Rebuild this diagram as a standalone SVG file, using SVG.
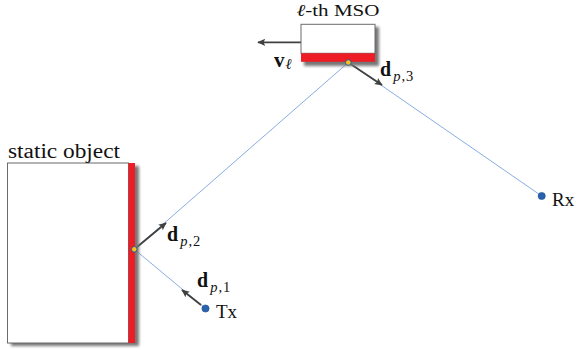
<svg xmlns="http://www.w3.org/2000/svg" width="577" height="356" viewBox="0 0 577 356">
<defs>
<filter id="sh" x="-20%" y="-20%" width="150%" height="150%">
<feGaussianBlur stdDeviation="1.6"/>
</filter>
<marker id="ah" viewBox="0 0 10 10" refX="9" refY="5" markerWidth="8" markerHeight="8" markerUnits="userSpaceOnUse" orient="auto" overflow="visible">
<path d="M0,0.5 L10,5 L0,9.5 L2,5 Z" fill="#404040"/>
</marker>
</defs>
<style>
.ray{stroke:#6a98d8;stroke-width:0.8;fill:none}
.arr{stroke:#404040;stroke-width:1.8;fill:none;marker-end:url(#ah)}
.box{fill:#fff;stroke:#6b6b6b;stroke-width:1}
.red{fill:#ee1c24}
.shd{fill:#777;filter:url(#sh)}
.t{font-family:"Liberation Serif","Times New Roman",serif;fill:#111}
.b{font-family:"Liberation Serif","Times New Roman",serif;font-weight:bold;fill:#111}
.i{font-family:"Liberation Serif","Times New Roman",serif;font-style:italic;font-weight:normal;fill:#111}
.s{font-family:"Liberation Serif","Times New Roman",serif;font-weight:normal;fill:#111}
.pt{fill:#2a62b0;stroke:#1b4a8a;stroke-width:0.6}
.rp{fill:#f7c21a;stroke:#2a5aa0;stroke-width:1}
</style>
<g id="connectors">
<polyline class="ray" points="205.5,308.5 134.3,249.3 348.3,62.5 541.7,196"/>
<line class="arr" x1="201" y1="305" x2="182" y2="290"/>
<line class="arr" x1="134.3" y1="249.3" x2="166" y2="223"/>
<line class="arr" x1="348.3" y1="62.5" x2="382" y2="85"/>
<line class="arr" x1="301" y1="42.3" x2="258" y2="42.3"/>
</g>
<g id="static-object">
<rect class="shd" x="11" y="166" width="128" height="180"/>
<rect class="box" x="7.5" y="163" width="121" height="180"/>
<rect class="red" x="128.5" y="163" width="6.5" height="180"/>
<text class="t" x="8" y="158" font-size="20" textLength="112" lengthAdjust="spacingAndGlyphs">static object</text>
</g>
<g id="mso">
<rect class="shd" x="304" y="27" width="75" height="39"/>
<rect class="box" x="301" y="24.3" width="74" height="29"/>
<rect class="red" x="301" y="53.3" width="74" height="8.5"/>
<text class="t" x="296.5" y="16" font-size="16.5" textLength="83" lengthAdjust="spacingAndGlyphs"><tspan class="i">ℓ</tspan>-th MSO</text>
</g>
<g id="reflection-points">
<circle class="rp" cx="134.3" cy="249.3" r="2.8"/>
<circle class="rp" cx="348.3" cy="62.5" r="2.8"/>
</g>
<g id="tx">
<circle class="pt" cx="205.5" cy="308.5" r="3.6"/>
<text class="t" x="216" y="318" font-size="19">Tx</text>
</g>
<g id="rx">
<circle class="pt" cx="541.7" cy="196" r="3.6"/>
<text class="t" x="552" y="206" font-size="19">Rx</text>
</g>
<g id="labels">
<text class="b" x="274" y="67" font-size="21">v<tspan class="i" font-size="15" dx="1" dy="2">ℓ</tspan></text>
<text class="b" x="197" y="287" font-size="20">d<tspan class="i" font-size="14.5" dx="2" dy="4.5">p</tspan><tspan class="s" font-size="14.5" dx="1">,</tspan><tspan class="s" font-size="14.5" dx="1">1</tspan></text>
<text class="b" x="167" y="241" font-size="20">d<tspan class="i" font-size="14.5" dx="2" dy="4.5">p</tspan><tspan class="s" font-size="14.5" dx="1">,</tspan><tspan class="s" font-size="14.5" dx="1">2</tspan></text>
<text class="b" x="380" y="76" font-size="20">d<tspan class="i" font-size="14.5" dx="2" dy="4.5">p</tspan><tspan class="s" font-size="14.5" dx="1">,</tspan><tspan class="s" font-size="14.5" dx="1">3</tspan></text>
</g>
</svg>
